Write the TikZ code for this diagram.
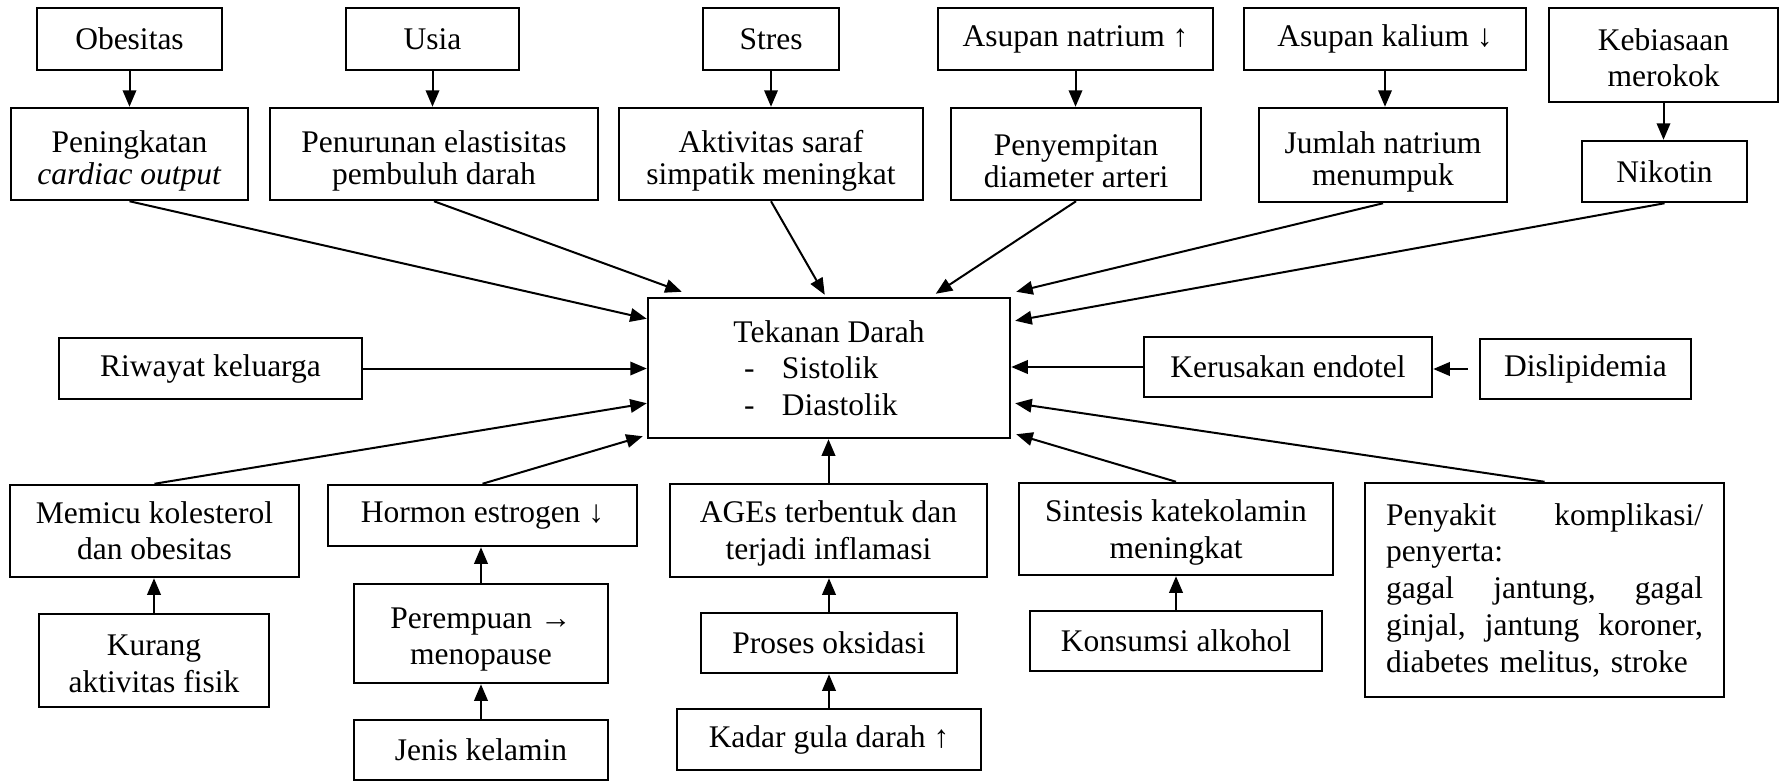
\documentclass[tikz,border=0pt]{standalone}
\usepackage{fontspec}
\setmainfont{Liberation Serif}
\usetikzlibrary{arrows.meta,calc}
\newcommand{\jline}[1]{\leavevmode\hbox to 126.8pt{#1}}
\newcommand{\lift}[1]{\rule{0pt}{#1pt}}
\begin{document}
\begin{tikzpicture}[x=0.4pt,y=-0.4pt,
  bx/.style 2 args={draw, line width=1pt, minimum width=#1*0.4pt, minimum height=#2*0.4pt, inner sep=0pt, align=center, font=\fontsize{12.6}{14.5}\selectfont},
  tight/.style={font=\fontsize{12.6}{12.8}\selectfont},
  wide/.style={font=\fontsize{12.6}{14.7}\selectfont},
  ar/.style={line width=0.8pt, -{Triangle[length=6.6pt,width=5.4pt]}}]
\useasboundingbox (0,0) rectangle (1780,781);
% top row
\node[bx={185}{62}] (obe) at (129.5,39) {Obesitas};
\node[bx={173}{62}] (usia) at (432.5,39) {Usia};
\node[bx={136}{62}] (stres) at (771,39) {Stres};
\node[bx={275}{62}] (natr) at (1075.5,39) {Asupan natrium ↑};
\node[bx={282}{62}] (kal) at (1385,39) {Asupan kalium ↓};
\node[bx={229}{94}] (rok) at (1663.5,55) {\lift{11}Kebiasaan\\merokok};
% second row
\node[bx={237}{92}, tight] (pen) at (129.5,154) {\lift{14.2}Peningkatan\\\textit{cardiac output}};
\node[bx={328}{92}, tight] (elas) at (434,154) {\lift{14.2}Penurunan elastisitas\\pembuluh darah};
\node[bx={304}{92}, tight] (saraf) at (771,154) {\lift{14.2}Aktivitas saraf\\simpatik meningkat};
\node[bx={250}{92}, tight] (arteri) at (1076,154) {\lift{14.2}Penyempitan\\diameter arteri};
\node[bx={248}{94}, tight] (jnat) at (1383,155) {\lift{14.2}Jumlah natrium\\menumpuk};
\node[bx={165}{61}] (niko) at (1664.5,171.5) {Nikotin};
% middle
\node[bx={362}{140}, wide] (td) at (829,368) {Tekanan Darah\\\makebox[68pt][l]{\makebox[15.2pt][l]{-}Sistolik}\\\makebox[68pt][l]{\makebox[15.2pt][l]{-}Diastolik}};
\node[bx={303}{61}] (riw) at (210.5,368.5) {Riwayat keluarga};
\node[bx={288}{60}] (endo) at (1288,367) {Kerusakan endotel};
\node[bx={211}{60}] (dis) at (1585.5,369) {Dislipidemia};
% bottom
\node[bx={289}{92}] (memicu) at (154.5,531) {Memicu kolesterol\\dan obesitas};
\node[bx={230}{93}] (kurang) at (154,660.5) {\lift{11}Kurang\\aktivitas fisik};
\node[bx={309}{61}] (horm) at (482.5,515.5) {Hormon estrogen ↓};
\node[bx={254}{99}] (perem) at (481,633.5) {\lift{13.2}Perempuan →\\menopause};
\node[bx={254}{60}] (jenis) at (481,750) {Jenis kelamin};
\node[bx={317}{93}] (ages) at (828.5,530.5) {\lift{11}AGEs terbentuk dan\\terjadi inflamasi};
\node[bx={256}{60}] (oks) at (829,643) {Proses oksidasi};
\node[bx={304}{61}] (gula) at (829,739.5) {Kadar gula darah ↑};
\node[bx={314}{92}] (sint) at (1176,529) {\lift{11.5}Sintesis katekolamin\\meningkat};
\node[bx={292}{60}] (alk) at (1176,641) {Konsumsi alkohol};
\node[bx={359}{214}, wide, align=left, text width=126.8pt, inner xsep=8.4pt] (peny) at (1544.5,590)
  {\jline{Penyakit\hfill komplikasi/}\\penyerta:\\\jline{gagal\hfill jantung,\hfill gagal}\\\jline{ginjal,\hfill jantung\hfill koroner,}\\diabetes melitus, stroke};
% arrows top
\draw[ar] (obe.south) -- (obe.south |- pen.north);
\draw[ar] (usia.south) -- (usia.south |- elas.north);
\draw[ar] (stres.south) -- (stres.south |- saraf.north);
\draw[ar] (natr.south) -- (natr.south |- arteri.north);
\draw[ar] (kal.south) -- (kal.south |- jnat.north);
\draw[ar] (rok.south) -- (rok.south |- niko.north);
% arrows to centre
\draw[ar] (pen.south) -- ($(td.north west)+(0,22)$);
\draw[ar] (elas.south) -- ($(td.north west)+(35,-5)$);
\draw[ar] (saraf.south) -- ($(td.north west)+(178,-2)$);
\draw[ar] (arteri.south) -- ($(td.north west)+(289,-3)$);
\draw[ar] (jnat.south) -- ($(td.north east)+(5,-5)$);
\draw[ar] (niko.south) -- ($(td.north east)+(4,24)$);
\draw[ar] (riw.east) -- (riw.east -| td.west);
\draw[ar] (endo.west) -- (endo.west -| td.east);
\draw[ar, shorten <=4.4pt] (dis.west) -- (dis.west -| endo.east);
\draw[ar] (memicu.north) -- ($(td.south west)+(0,-36)$);
\draw[ar] (horm.north) -- ($(td.south west)+(-4,-3)$);
\draw[ar] (ages.north) -- (ages.north |- td.south);
\draw[ar] (sint.north) -- ($(td.south east)+(5,-5)$);
\draw[ar] (peny.north) -- ($(td.south east)+(4,-36)$);
% bottom chains
\draw[ar] (kurang.north) -- (kurang.north |- memicu.south);
\draw[ar] (perem.north) -- (perem.north |- horm.south);
\draw[ar] (jenis.north) -- (jenis.north |- perem.south);
\draw[ar] (oks.north) -- (oks.north |- ages.south);
\draw[ar] (gula.north) -- (gula.north |- oks.south);
\draw[ar] (alk.north) -- (alk.north |- sint.south);
\end{tikzpicture}
\end{document}
